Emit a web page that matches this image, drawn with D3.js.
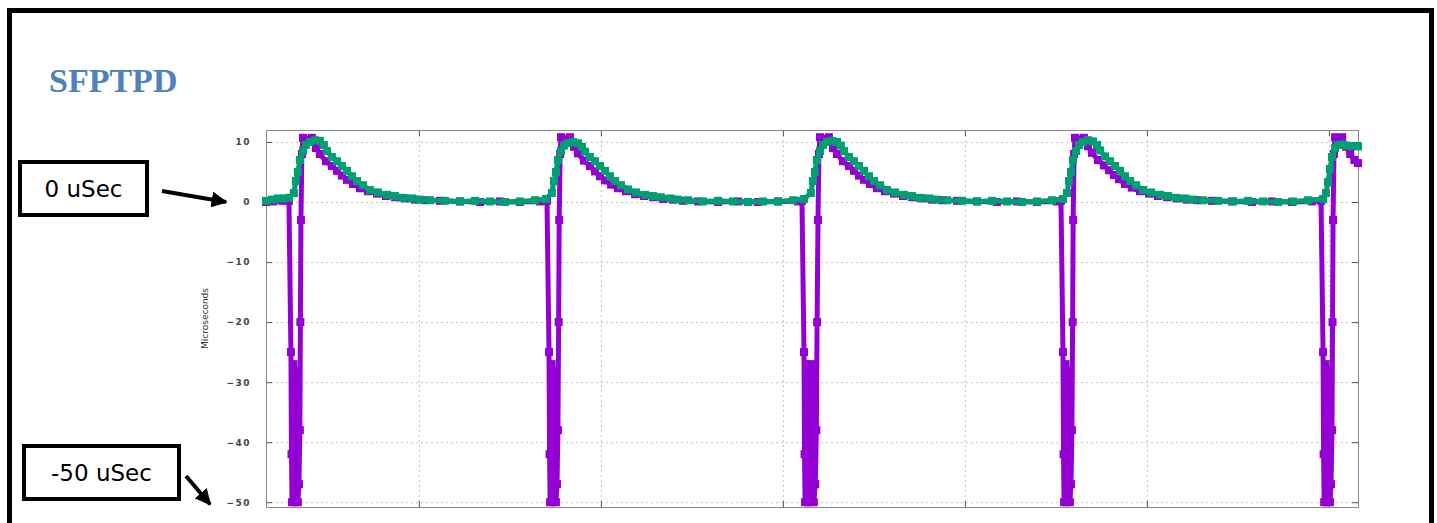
<!DOCTYPE html>
<html>
<head>
<meta charset="utf-8">
<script src="https://cdn.jsdelivr.net/npm/d3@7"></script>
<style>
body { margin: 0; background: #fff; }
svg { display: block; }
</style>
</head>
<body>
<div id="chart"></div>
<script>
var title = "SFPTPD";
var yAxisLabel = "Microseconds";
var yTickValues = [10, 0, -10, -20, -30, -40, -50];
var xTickValues = [100, 200, 300, 400, 500, 600];
var noteZero = "0 uSec";
var noteMin = "-50 uSec";

// purple trace: [time, microseconds]
var purpleSeries = [
    [16, 0.0], [20, 0.1], [25, 0.2], [28.6, 0.2],
    [29.7, -25], [30.0, -42], [30.3, -50], [31.1, -27], [31.9, -50], [32.7, -28], [33.5, -50], [34.1, -47], [34.6, -38], [34.9, -20], [35.2, -3], [35.7, 8], [36.3, 10.7],
    [41.2, 10.7], [43.4, 9], [45.6, 8], [48.9, 6.8], [52.2, 6], [55, 5.2], [57.7, 4.4], [60.5, 3.7], [63.8, 3], [67.6, 2.3], [72, 1.8], [77, 1.4], [81.9, 1], [86.9, 0.8], [92.3, 0.6], [97.8, 0.4], [103.3, 0.3], [111.6, 0.2], [122.6, 0.1], [133.6, 0], [144.5, 0.1], [155.5, 0], [166.5, 0.1], [170.4, 0.2],
    [171.5, -25], [171.8, -42], [172.1, -50], [172.9, -27], [173.7, -50], [174.5, -28], [175.3, -50], [175.9, -47], [176.4, -38], [176.8, -20], [177.1, -3], [177.6, 8], [178.1, 10.8],
    [183.0, 10.8], [185.2, 9.2], [187.4, 8.1], [190.7, 6.9], [194.0, 6.0], [196.8, 5.1], [199.5, 4.3], [202.3, 3.6], [205.6, 2.9], [209.4, 2.3], [213.8, 1.8], [218.8, 1.3], [223.7, 1.0], [228.7, 0.8], [234.1, 0.5], [239.6, 0.4], [245.1, 0.2], [253.4, 0.1], [264.4, 0.0], [275.4, 0.1], [286.3, 0.0], [297.3, 0.1], [308.3, 0.1], [310.5, 0.2],
    [311.6, -25], [311.9, -42], [312.2, -50], [313.0, -27], [313.8, -50], [314.6, -28], [315.4, -50], [316.2, -27], [317.0, -50], [317.8, -47], [318.4, -38], [318.8, -20], [319.3, -3], [319.8, 8], [320.4, 10.8],
    [325.3, 10.8], [327.5, 9], [329.7, 8], [333.0, 6.8], [336.3, 6], [339.1, 5.2], [341.8, 4.4], [344.6, 3.7], [347.9, 3], [351.7, 2.3], [356.1, 1.8], [361.1, 1.4], [366.0, 1], [371.0, 0.8], [376.4, 0.6], [381.9, 0.4], [387.4, 0.3], [395.7, 0.2], [406.7, 0.1], [417.6, 0], [428.6, 0.1], [439.6, 0], [450.5, 0.1], [452.8, 0.2],
    [453.9, -25], [454.2, -42], [454.5, -50], [455.3, -27], [456.1, -50], [456.9, -28], [457.7, -50], [458.3, -47], [458.8, -38], [459.2, -20], [459.5, -3], [460.0, 8], [460.5, 10.7],
    [465.4, 10.7], [467.6, 9.3], [469.8, 8.2], [473.1, 7], [476.4, 6.1], [479.2, 5.3], [481.9, 4.5], [484.7, 3.8], [488.0, 3], [491.8, 2.4], [496.2, 1.8], [501.2, 1.4], [506.1, 1], [511.1, 0.8], [516.5, 0.6], [522.0, 0.4], [527.5, 0.3], [535.8, 0.2], [546.8, 0.1], [557.7, 0], [568.7, 0.1], [579.7, 0], [590.6, 0.1], [595.7, 0.2],
    [596.8, -25], [597.1, -42], [597.4, -50], [598.2, -27], [599.0, -50], [599.8, -28], [600.6, -50], [601.2, -47], [601.7, -38], [602.0, -20], [602.3, -3], [602.8, 8], [603.4, 10.8],
    [607.3, 10.8], [609.5, 9.2], [611.7, 8], [614.0, 7], [616, 6.5]
];

// green trace: [time, microseconds]
var greenSeries = [
    [16, 0.2], [19.3, 0.4], [22.6, 0.6], [25.9, 0.6], [28.6, 0.7],
    [31.3, 1.5], [32.4, 3.5], [33.5, 5], [34.6, 7], [36.3, 8.5], [37.9, 9.5], [40.1, 10], [42.9, 10.3], [45.6, 10.2], [47.8, 9.5], [49.5, 8.5], [52.2, 7.5], [55, 6.8], [57.7, 6], [60.5, 5.2], [63.2, 4.3], [66, 3.5], [69.3, 2.8], [73.1, 2], [77.5, 1.6], [82.5, 1.2], [86.8, 1], [91.2, 0.7], [96.2, 0.6], [100.6, 0.4], [106.1, 0.3], [114.3, 0.2], [122.6, 0.1], [130.8, 0.2], [139.1, 0.1], [147.3, 0], [155.5, 0.1], [163.8, 0.3], [169.8, 0.5],
    [173.1, 1.5], [174.2, 3.5], [175.3, 5], [176.4, 7], [178.1, 8.5], [179.7, 9.4], [181.9, 9.8], [184.7, 10], [187.4, 9.8], [189.6, 9.2], [191.3, 8.4], [194.0, 7.5], [196.8, 6.8], [199.5, 6], [202.3, 5.2], [205.0, 4.3], [207.8, 3.5], [211.1, 2.8], [214.9, 2.1], [219.3, 1.6], [224.3, 1.2], [228.6, 1], [233.0, 0.8], [238.0, 0.6], [242.4, 0.4], [247.9, 0.3], [256.1, 0.1], [264.4, 0.2], [272.6, 0.1], [280.9, 0], [289.1, 0.1], [297.3, 0.1], [305.6, 0.3], [311.6, 0.5],
    [315.4, 1.5], [316.5, 3.5], [317.6, 5], [318.7, 7], [320.4, 8.5], [322.0, 9.5], [324.2, 10], [327.0, 10.2], [329.7, 10], [331.9, 9.4], [333.6, 8.5], [336.3, 7.5], [339.1, 6.8], [341.8, 6], [344.6, 5.2], [347.3, 4.3], [350.1, 3.5], [353.4, 2.8], [357.2, 2], [361.6, 1.6], [366.6, 1.2], [370.9, 1], [375.3, 0.7], [380.3, 0.6], [384.7, 0.4], [390.2, 0.3], [398.4, 0.2], [406.7, 0.1], [414.9, 0.2], [423.2, 0.1], [431.4, 0], [439.6, 0.1], [447.9, 0.3], [453.9, 0.5],
    [456.1, 1.5], [457.2, 3.5], [458.3, 5], [459.4, 7], [461.1, 8.5], [462.7, 9.5], [464.9, 10], [467.7, 10.3], [470.4, 10.1], [472.6, 9.5], [474.3, 8.6], [477.0, 7.6], [479.8, 6.8], [482.5, 6], [485.3, 5.2], [488.0, 4.3], [490.8, 3.5], [494.1, 2.8], [497.9, 2], [502.3, 1.6], [507.3, 1.2], [511.6, 1], [516.0, 0.7], [521.0, 0.6], [525.4, 0.4], [530.9, 0.3], [539.1, 0.2], [547.4, 0.1], [555.6, 0.2], [563.9, 0.1], [572.1, 0], [580.3, 0.1], [588.6, 0.3], [596.8, 0.5],
    [598.4, 1.5], [599.5, 3.3], [600.6, 5.5], [601.7, 7.5], [603.4, 9.0], [605.0, 9.5], [607.2, 9.6], [610.0, 9.4], [612.7, 9.3], [615.5, 9.3], [616, 9.3]
];

var w = 1437;
var h = 523;

var plotLeft = 266, plotRight = 1358, plotTop = 130, plotBottom = 507;

var svg = d3.select("#chart").append("svg").attr("width", w).attr("height", h);

// outer frame of the slide
svg.append("rect")
    .attr("x", 9.5).attr("y", 10.5)
    .attr("width", 1422).attr("height", 540)
    .attr("fill", "none").attr("stroke", "#000").attr("stroke-width", 5);

svg.append("text")
    .attr("x", 49).attr("y", 92)
    .attr("font-family", "Liberation Serif, serif")
    .attr("font-weight", "bold")
    .attr("font-size", "34px")
    .attr("fill", "#4f81bd")
    .text(title);

var xScale = d3.scaleLinear().domain([16, 616]).range([plotLeft, plotRight]);
var yScale = d3.scaleLinear().domain([-50.8, 12]).range([plotBottom, plotTop]);

//grid
svg.append("g").selectAll("line").data(yTickValues).enter().append("line")
    .attr("x1", plotLeft).attr("x2", plotRight)
    .attr("y1", function (d) { return yScale(d) + 0.5; })
    .attr("y2", function (d) { return yScale(d) + 0.5; })
    .attr("stroke", "#c4c4c4").attr("stroke-dasharray", "2,3");

svg.append("g").selectAll("line").data(xTickValues).enter().append("line")
    .attr("y1", plotTop).attr("y2", plotBottom)
    .attr("x1", function (d) { return xScale(d) + 0.5; })
    .attr("x2", function (d) { return xScale(d) + 0.5; })
    .attr("stroke", "#c4c4c4").attr("stroke-dasharray", "2,3");

//axes
var yAxis = d3.axisLeft(yScale).tickValues(yTickValues).tickSize(-6).tickPadding(15);
var yAxisG = svg.append("g").attr("transform", "translate(" + plotLeft + ",0)").call(yAxis);
yAxisG.select(".domain").remove();
yAxisG.selectAll("line").attr("stroke", "#555");
yAxisG.selectAll("text")
    .attr("font-family", "DejaVu Sans, sans-serif")
    .attr("font-size", "9px")
    .attr("font-weight", "bold")
    .attr("letter-spacing", "1.5px")
    .attr("fill", "#444");

var yAxisRight = d3.axisRight(yScale).tickValues(yTickValues).tickSize(-6).tickFormat("");
var yRightG = svg.append("g").attr("transform", "translate(" + plotRight + ",0)").call(yAxisRight);
yRightG.select(".domain").remove();
yRightG.selectAll("line").attr("stroke", "#555");

var xAxis = d3.axisBottom(xScale).tickValues(xTickValues).tickSize(-6).tickFormat("");
var xAxisG = svg.append("g").attr("transform", "translate(0," + plotBottom + ")").call(xAxis);
xAxisG.select(".domain").remove();
xAxisG.selectAll("line").attr("stroke", "#555");

var xAxisTop = d3.axisTop(xScale).tickValues(xTickValues).tickSize(-6).tickFormat("");
var xTopG = svg.append("g").attr("transform", "translate(0," + plotTop + ")").call(xAxisTop);
xTopG.select(".domain").remove();
xTopG.selectAll("line").attr("stroke", "#555");

// plot border
svg.append("rect")
    .attr("x", plotLeft + 0.5).attr("y", plotTop + 0.5)
    .attr("width", plotRight - plotLeft).attr("height", plotBottom - plotTop)
    .attr("fill", "none").attr("stroke", "#8a8a8a");

svg.append("text")
    .attr("transform", "translate(208," + ((plotTop + plotBottom) / 2) + ") rotate(-90)")
    .attr("text-anchor", "middle")
    .attr("font-family", "DejaVu Sans, sans-serif")
    .attr("font-size", "9px")
    .attr("fill", "#333")
    .text(yAxisLabel);

//traces
var line = d3.line()
    .x(function (d) { return xScale(d[0]); })
    .y(function (d) { return yScale(d[1]); });

function drawTrace(data, color) {
    var g = svg.append("g");
    g.append("path")
        .datum(data)
        .attr("d", line)
        .attr("fill", "none")
        .attr("stroke", color)
        .attr("stroke-width", 5)
        .attr("stroke-linejoin", "round");
    g.selectAll("rect").data(data).enter().append("rect")
        .attr("x", function (d) { return xScale(d[0]) - 4; })
        .attr("y", function (d) { return yScale(d[1]) - 4; })
        .attr("width", 8)
        .attr("height", 8)
        .attr("fill", color);
}

drawTrace(purpleSeries, "#9400d3");
drawTrace(greenSeries, "#009e73");

//annotations
svg.append("defs").append("marker")
    .attr("id", "arrow")
    .attr("viewBox", "0 0 10 10")
    .attr("refX", 9).attr("refY", 5)
    .attr("markerWidth", 4).attr("markerHeight", 4)
    .attr("markerUnits", "strokeWidth")
    .attr("orient", "auto")
    .append("path").attr("d", "M0,0 L10,5 L0,10 Z").attr("fill", "#000");

function drawNote(x, y, bw, bh, label, fromX, fromY, toX, toY) {
    svg.append("rect")
        .attr("x", x).attr("y", y).attr("width", bw).attr("height", bh)
        .attr("fill", "#fff").attr("stroke", "#000").attr("stroke-width", 4);
    svg.append("text")
        .attr("x", x + bw / 2).attr("y", y + bh / 2 + 8)
        .attr("text-anchor", "middle")
        .attr("font-family", "DejaVu Sans, Verdana, sans-serif")
        .attr("font-size", "23px")
        .attr("fill", "#000")
        .text(label);
    svg.append("line")
        .attr("x1", fromX).attr("y1", fromY).attr("x2", toX).attr("y2", toY)
        .attr("stroke", "#000").attr("stroke-width", 4)
        .attr("marker-end", "url(#arrow)");
}

drawNote(20, 162, 127, 53, noteZero, 162, 191, 226, yScale(0));
drawNote(24, 446, 155, 53, noteMin, 186, 476, 210, yScale(-50) + 2);
</script>
</body>
</html>
